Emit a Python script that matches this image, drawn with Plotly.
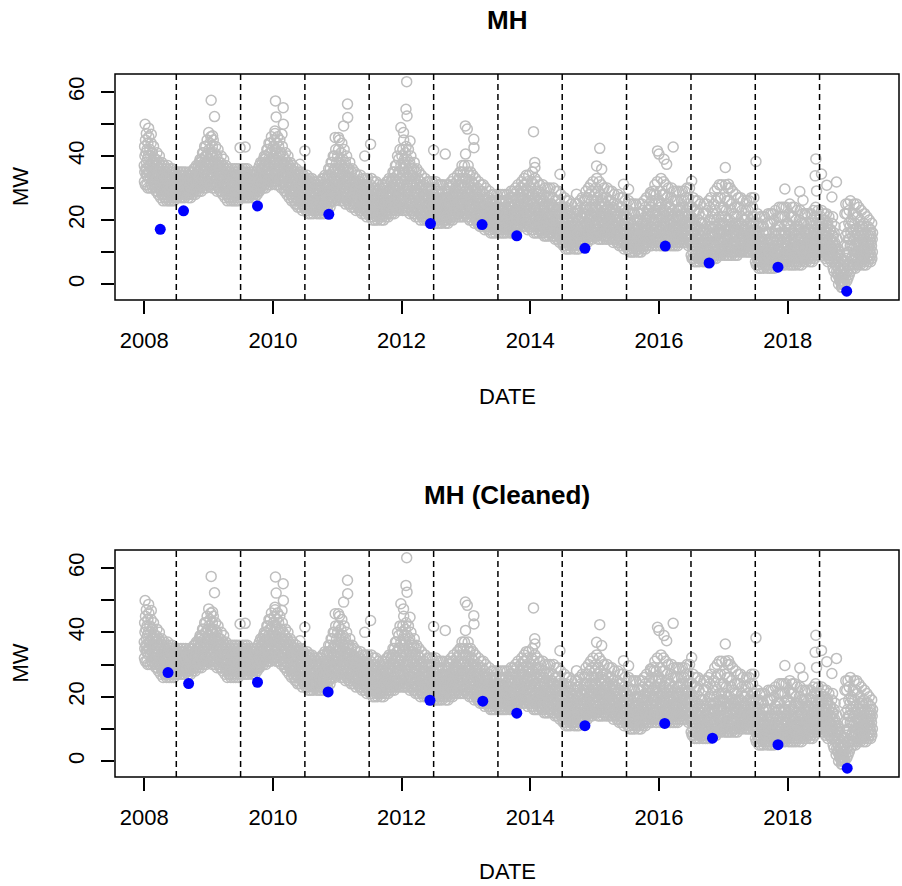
import plotly.graph_objects as go

# ---------------- data ----------------
# Twelve daily MW readings per half month (sorted low -> high); the day of the
# month each reading was taken on is given by the day patterns below.
first_half_days = [[7, 2, 12, 4, 9, 1, 14, 5, 11, 3, 8, 13],
                   [3, 10, 6, 13, 1, 8, 4, 12, 7, 14, 2, 9]]
second_half_days = [[21, 16, 26, 18, 23, 15, 28, 19, 25, 17, 22, 27],
                    [17, 24, 20, 27, 15, 22, 18, 26, 21, 28, 16, 23]]

mw_2008 = [
    "31 32 34 35 36 37 38 40 41 43 45 47", "30 31 33 34 35 36 37 39 40 42 44 46",
    "30 31 33 34 35 36 37 38 40 41 42 44", "30 31 32 33 34 35 36 37 38 39 41 43",
    "29 30 31 32 33 34 35 36 37 38 39 41", "28 29 30 31 32 33 34 35 36 37 38 40",
    "27 28 29 30 31 32 33 34 35 36 37 38", "26 27 28 29 30 31 32 33 34 35 36 37",
    "26 27 28 29 30 31 32 33 34 35 36 37", "26 27 28 29 29 30 31 32 33 34 35 36",
    "26 27 28 29 30 31 31 32 33 34 35 36", "26 27 28 29 29 30 31 31 32 33 34 35",
    "27 28 28 29 30 30 31 32 32 33 34 35", "27 28 29 29 30 30 31 31 32 33 34 35",
    "27 28 28 29 30 30 31 32 32 33 34 35", "27 28 29 29 30 30 31 31 32 33 34 35",
    "27 28 28 29 30 30 31 32 32 33 34 35", "27 28 29 29 30 31 31 32 33 33 34 35",
    "28 29 29 30 31 31 32 33 33 34 35 36", "28 29 30 31 31 32 33 34 34 35 36 37",
    "29 30 31 32 33 33 34 35 36 37 38 39", "29 30 31 32 33 34 35 36 37 38 39 41",
    "30 31 32 33 34 35 36 37 38 40 41 43", "30 31 32 34 35 36 37 38 40 41 43 45",
]
mw_2009 = [
    "31 32 33 35 36 37 38 39 41 42 44 46", "30 31 32 34 35 36 37 38 40 41 43 45",
    "30 31 32 33 34 35 36 37 38 40 41 43", "29 30 31 32 33 34 35 36 37 38 40 42",
    "29 30 31 32 33 34 34 35 36 37 38 40", "28 29 30 31 32 33 33 34 35 36 37 39",
    "27 28 29 30 31 31 32 33 34 35 36 37", "26 27 28 29 30 31 31 32 33 34 35 36",
    "26 27 28 29 29 30 31 32 33 34 35 36", "26 27 28 29 29 30 31 32 32 33 34 36",
    "26 27 28 29 29 30 31 32 33 34 35 36", "26 27 28 29 30 30 31 32 33 34 35 36",
    "27 28 29 29 30 31 31 32 33 34 35 36", "27 28 29 29 30 31 31 32 33 34 35 36",
    "27 28 29 29 30 31 31 32 33 34 35 36", "27 28 28 29 30 31 31 32 33 33 34 35",
    "27 28 28 29 30 30 31 32 32 33 34 35", "27 28 29 29 30 31 31 32 33 33 34 35",
    "28 29 29 30 31 31 32 33 33 34 35 36", "29 30 30 31 32 33 33 34 35 36 37 38",
    "30 31 32 33 33 34 35 36 37 38 39 40", "30 31 32 33 34 35 36 37 38 39 40 42",
    "31 32 33 34 35 36 37 38 39 41 42 44", "31 32 33 35 36 37 38 39 41 42 44 46",
]
mw_2010 = [
    "32 33 34 36 37 38 39 40 42 43 45 47", "31 32 33 35 36 37 38 39 41 42 44 46",
    "31 32 33 34 35 36 37 38 40 41 43 45", "30 31 32 33 34 35 36 37 38 40 41 43",
    "29 30 31 32 33 34 35 36 37 38 39 41", "28 29 30 31 32 33 34 35 36 37 38 40",
    "27 28 29 30 31 32 33 34 35 36 37 38", "26 27 28 29 30 31 32 33 34 35 36 37",
    "25 26 27 28 29 30 31 32 33 34 35 36", "24 25 26 27 28 29 30 31 32 33 34 35",
    "24 25 26 27 28 29 30 31 32 33 34 35", "23 24 25 26 27 28 29 30 31 32 33 34",
    "23 24 25 26 27 28 29 30 31 32 33 34", "22 23 24 25 26 27 28 29 30 31 32 33",
    "22 23 24 25 26 27 28 29 30 31 32 33", "22 23 24 25 26 26 27 28 29 30 31 32",
    "22 23 24 25 26 26 27 28 29 30 31 32", "22 23 24 25 26 27 27 28 29 30 31 32",
    "22 23 24 25 26 27 28 29 30 31 32 33", "22 23 24 25 26 27 28 29 30 31 33 34",
    "23 24 25 26 27 28 29 30 31 33 34 36", "24 25 26 27 28 29 30 31 33 34 36 38",
    "26 27 28 29 30 31 32 33 35 36 38 40", "26 27 28 30 31 32 33 35 36 38 40 42",
]
mw_2011 = [
    "27 28 30 31 32 34 35 36 38 40 42 45", "26 27 28 30 31 32 34 35 37 39 41 44",
    "26 27 28 30 31 32 33 34 36 37 39 42", "25 26 27 28 30 31 32 33 34 36 38 40",
    "25 26 27 28 29 30 31 32 33 35 36 38", "24 25 26 27 28 29 30 31 32 33 35 36",
    "24 25 26 27 28 29 30 30 31 32 33 35", "23 24 25 26 27 28 29 29 30 31 32 34",
    "23 24 25 26 27 28 28 29 30 31 32 34", "22 23 24 25 26 27 27 28 29 30 31 33",
    "22 23 24 25 26 27 27 28 29 30 31 33", "21 22 23 24 25 26 27 27 28 29 31 33",
    "21 22 23 24 25 26 27 28 29 30 31 33", "20 21 22 23 24 25 26 27 28 29 30 32",
    "20 21 22 23 24 25 26 27 28 29 30 32", "20 21 22 23 24 25 25 26 27 28 29 31",
    "20 21 22 23 24 25 25 26 27 28 29 31", "20 21 22 23 24 25 26 26 27 28 30 31",
    "21 22 23 24 25 26 26 27 28 29 30 32", "21 22 23 24 25 26 27 28 29 30 32 33",
    "22 23 24 25 26 27 28 29 30 32 33 35", "22 23 24 25 26 28 29 30 32 33 35 37",
    "23 24 25 27 28 29 31 32 34 35 37 40", "23 24 25 27 28 30 31 33 35 37 39 42",
]
mw_2012 = [
    "23 25 26 28 30 32 34 36 38 40 42 45", "23 24 26 27 29 31 33 35 37 39 41 43",
    "23 24 25 27 28 30 31 33 35 37 39 42", "22 23 25 26 28 29 31 32 34 36 38 40",
    "22 23 24 25 27 28 29 31 32 34 36 38", "21 22 23 24 26 27 28 30 31 33 35 36",
    "21 22 23 24 25 26 27 28 30 31 33 35", "20 21 22 23 24 25 26 27 29 30 32 34",
    "20 21 22 23 24 25 26 27 28 29 31 33", "20 21 22 23 24 24 25 26 27 28 30 32",
    "20 21 22 23 24 25 25 26 27 28 30 32", "19 20 21 22 23 24 25 26 27 28 30 32",
    "19 20 21 22 23 24 25 26 27 28 30 32", "19 20 21 22 23 24 25 25 26 27 29 31",
    "19 20 21 22 23 24 24 25 26 27 29 31", "19 20 21 22 23 23 24 25 26 27 29 31",
    "19 20 21 22 23 24 24 25 26 27 29 31", "19 20 21 22 23 24 25 25 26 27 29 31",
    "20 21 22 23 24 25 25 26 27 28 30 32", "20 21 22 23 24 25 26 27 28 29 31 33",
    "21 22 23 24 25 26 27 28 29 30 32 34", "21 22 23 24 25 26 27 28 30 31 33 35",
    "21 22 23 25 26 27 28 30 31 33 35 37", "21 22 23 24 26 27 28 29 31 33 35 37",
]
mw_2013 = [
    "21 22 23 25 26 27 28 30 31 33 35 37", "20 21 22 24 25 26 27 29 30 32 34 35",
    "20 21 22 23 24 25 26 27 29 30 32 34", "19 20 21 22 23 24 25 26 28 29 31 33",
    "19 20 21 22 23 24 25 26 27 28 30 32", "18 19 20 21 22 23 24 25 26 27 29 31",
    "18 19 20 21 22 23 24 25 26 27 29 31", "17 18 19 20 21 22 23 24 25 26 28 30",
    "17 18 19 20 21 22 23 23 24 25 27 29", "16 17 18 19 20 21 22 22 23 24 26 28",
    "16 17 18 19 20 21 22 22 23 24 26 28", "16 17 18 19 20 21 21 22 23 24 26 28",
    "16 17 18 19 20 21 22 22 23 24 26 28", "16 17 18 19 20 21 21 22 23 24 26 28",
    "16 17 18 19 20 21 22 22 23 24 26 28", "16 17 18 19 20 21 22 22 23 25 26 28",
    "16 17 18 19 20 21 22 23 24 25 27 29", "16 17 18 19 20 21 22 23 24 25 27 29",
    "16 17 18 19 20 21 22 23 25 26 28 30", "17 18 19 20 21 22 23 24 25 27 29 31",
    "18 19 20 21 22 23 24 25 27 28 30 32", "18 19 20 21 22 23 24 26 27 29 31 33",
    "18 19 20 21 23 24 25 26 28 29 31 34", "17 18 19 21 22 23 25 26 28 29 32 34",
]
mw_2014 = [
    "17 18 19 21 22 23 25 26 28 30 32 35", "16 17 18 20 21 22 24 25 27 28 31 33",
    "16 17 18 19 21 22 23 24 26 27 29 32", "16 17 18 19 20 21 22 24 25 27 29 31",
    "16 17 18 19 20 21 22 23 25 26 28 31", "15 16 17 18 19 20 21 23 24 26 28 30",
    "15 16 17 18 19 20 21 22 24 25 27 30", "15 16 17 18 19 20 21 22 23 25 27 30",
    "15 16 17 18 19 20 21 22 24 25 27 30", "14 15 16 17 18 19 20 22 23 24 26 29",
    "14 15 16 17 18 19 20 21 23 24 26 29", "13 14 15 16 17 18 19 20 22 23 25 28",
    "12 13 14 15 16 17 18 19 21 22 24 27", "11 12 13 14 15 16 17 19 20 22 24 26",
    "11 12 13 14 15 16 17 18 20 21 23 26", "11 12 13 14 15 16 17 18 19 21 23 25",
    "11 12 13 14 15 16 17 18 19 20 22 25", "11 12 13 14 15 16 17 18 20 21 23 25",
    "11 12 13 14 15 16 17 18 20 21 23 26", "12 13 14 15 16 17 18 19 21 22 24 27",
    "13 14 15 16 17 18 19 21 22 24 26 29", "13 14 15 16 17 18 20 21 23 24 27 30",
    "14 15 16 17 18 20 21 22 24 26 28 31", "14 15 16 17 19 20 21 23 24 26 29 32",
]
mw_2015 = [
    "15 16 17 18 20 21 22 24 26 28 30 33", "14 15 16 17 19 20 21 23 25 27 29 32",
    "14 15 16 17 18 20 21 22 24 26 28 31", "14 15 16 17 18 19 21 22 23 25 27 30",
    "14 15 16 17 18 19 20 22 23 25 27 30", "14 15 16 17 18 19 20 21 23 24 26 29",
    "14 15 16 17 18 19 20 21 22 24 26 29", "13 14 15 16 17 18 19 20 22 23 25 28",
    "13 14 15 16 17 18 19 20 21 23 25 28", "12 13 14 15 16 17 18 19 21 22 24 27",
    "12 13 14 15 16 17 18 19 20 22 24 27", "11 12 13 14 15 16 17 18 20 21 23 26",
    "11 12 13 14 15 16 17 18 19 21 23 26", "10 11 12 13 14 15 16 17 19 20 22 25",
    "10 11 12 13 14 15 16 17 18 20 22 25", "10 11 12 13 14 15 16 17 18 20 22 25",
    "10 11 12 13 14 15 16 17 18 20 22 25", "10 11 12 13 14 15 16 17 19 20 22 25",
    "11 12 13 14 15 16 17 18 19 21 23 26", "11 12 13 14 15 16 17 19 20 22 24 27",
    "12 13 14 15 16 17 18 20 21 23 25 28", "12 13 14 15 16 18 19 20 22 24 26 29",
    "13 14 15 16 17 19 20 22 23 25 28 31", "12 13 14 15 17 18 20 21 23 25 28 32",
]
mw_2016 = [
    "12 13 14 16 17 18 20 22 24 26 29 33", "12 13 14 15 17 18 19 21 23 25 28 32",
    "12 13 14 15 16 18 19 21 23 25 28 31", "12 13 14 15 16 17 19 20 22 24 27 30",
    "12 13 14 15 16 17 19 20 22 24 27 30", "12 13 14 15 16 17 18 20 21 23 26 29",
    "12 13 14 15 16 17 18 20 21 23 26 29", "12 13 14 15 16 17 18 20 21 23 26 29",
    "13 14 15 16 17 18 19 20 22 24 26 29", "13 14 15 16 17 18 19 21 22 24 26 29",
    "13 14 15 16 17 18 19 21 23 25 27 30", "12 13 14 15 16 18 19 20 22 24 27 30",
    "8 9 10 12 13 14 16 17 19 21 24 27", "7 8 9 11 12 13 15 16 18 20 23 26",
    "7 8 9 10 12 13 14 16 18 20 23 26", "7 8 9 10 12 13 14 15 17 19 22 25",
    "7 8 9 10 11 13 14 15 17 19 22 25", "7 8 9 10 11 13 14 16 17 19 22 25",
    "7 8 9 10 12 13 14 16 18 20 23 26", "7 8 9 11 12 13 15 16 18 21 24 27",
    "8 9 10 12 13 15 16 18 20 22 25 29", "8 9 10 12 13 15 16 18 20 23 26 30",
    "9 10 11 13 14 16 17 19 21 24 27 31", "9 10 11 13 14 16 17 19 21 23 27 31",
]
mw_2017 = [
    "9 10 11 13 14 16 17 19 21 24 27 31", "9 10 11 12 14 15 17 18 20 23 26 30",
    "9 10 11 12 14 15 17 18 20 23 26 30", "9 10 11 12 13 15 16 18 19 22 25 29",
    "9 10 11 12 13 15 16 17 19 21 24 28", "9 10 11 12 13 15 16 17 19 21 24 27",
    "10 11 12 13 14 15 16 17 19 21 24 27", "10 11 12 13 14 15 16 17 18 20 23 26",
    "10 11 12 13 14 15 16 17 18 20 23 26", "10 11 12 13 14 15 16 17 19 21 23 26",
    "10 11 12 13 14 15 16 18 19 21 24 27", "10 11 12 13 14 15 16 17 19 21 24 27",
    "6 7 8 9 10 11 12 13 15 17 19 22", "5 6 7 8 9 10 12 13 14 16 19 21",
    "5 6 7 8 9 10 11 12 14 16 18 21", "5 6 7 8 9 10 11 12 14 16 18 21",
    "5 6 7 8 9 10 11 13 14 16 19 22", "5 6 7 8 9 10 11 12 14 16 19 22",
    "5 6 7 8 9 10 11 13 14 16 19 22", "5 6 7 8 9 10 12 13 15 17 20 23",
    "6 7 8 9 10 11 13 14 16 18 21 24", "6 7 8 9 10 11 12 14 16 18 21 24",
    "6 7 8 9 10 11 13 14 16 18 21 24", "6 7 8 9 10 12 13 14 16 19 21 24",
]
mw_2018 = [
    "6 7 8 9 10 12 13 15 17 19 22 25", "6 7 8 9 10 11 13 14 16 18 21 24",
    "6 7 8 9 10 11 13 14 16 18 21 24", "6 7 8 9 10 11 12 14 15 17 20 23",
    "6 7 8 9 10 11 12 14 16 18 20 23", "6 7 8 9 10 11 12 14 15 17 19 22",
    "7 8 9 10 11 12 13 14 16 17 19 22", "7 8 9 10 11 12 13 14 15 17 19 22",
    "7 8 9 10 11 12 13 14 16 17 19 22", "7 8 9 10 11 12 13 15 16 18 20 23",
    "8 9 10 11 12 13 14 16 17 19 21 24", "9 10 11 12 13 14 15 16 18 19 21 23",
    "10 11 12 13 14 15 16 17 18 19 21 23", "9 10 11 12 13 14 15 16 17 19 20 22",
    "8 9 10 11 12 13 14 15 16 18 20 22", "7 8 9 10 11 12 13 14 16 17 19 21",
    "7 8 9 10 11 12 13 14 15 17 19 21", "4 5 7 8 9 10 11 12 13 15 16 18",
    "2 3 4 5 6 7 8 9 10 11 12 14", "0 1 2 2 3 4 5 6 7 8 9 10",
    "-1 -1 0 0 1 1 2 2 3 4 5 7", "0 1 2 3 5 7 9 12 15 18 22 25",
    "1 2 4 6 8 10 12 14 16 19 22 25", "3 4 6 8 10 12 14 16 18 20 23 26",
]
mw_2019 = [
    "5 6 8 9 11 12 14 15 17 19 22 25", "5 6 7 9 10 12 13 15 17 19 22 25",
    "6 7 8 9 10 12 13 15 16 18 21 24", "6 7 8 9 10 11 13 14 16 18 20 23",
    "6 7 8 9 10 11 12 14 15 17 19 22", "6 7 8 9 10 11 12 13 15 16 18 21",
    "7 8 9 10 11 12 13 14 15 16 18 20", "7 8 9 10 11 12 13 14 15 16 17 19",
]

# sparse high readings (peaks above the dense band)
outlier_dates = [
    "2008-01-06", "2008-01-26", "2008-02-10", "2009-01-01", "2009-01-15",
    "2009-01-23", "2009-02-03", "2009-06-28", "2009-07-27", "2010-01-12",
    "2010-01-15", "2010-01-19", "2010-02-21", "2010-02-28", "2010-03-01",
    "2010-06-03", "2010-07-01", "2010-12-20", "2011-01-08", "2011-02-06",
    "2011-02-28", "2011-03-01", "2011-06-06", "2011-07-09", "2011-12-28",
    "2012-01-12", "2012-01-26", "2012-01-30", "2012-02-01", "2012-02-18",
    "2012-07-01", "2012-09-05", "2012-12-28", "2012-12-29", "2013-01-08",
    "2013-02-14", "2013-02-15", "2014-01-19", "2014-01-26", "2014-01-27",
    "2014-06-18", "2014-09-20", "2015-01-12", "2015-01-30", "2015-02-10",
    "2015-06-14", "2015-07-13", "2015-11-14", "2015-12-24", "2016-01-01",
    "2016-01-30", "2016-02-14", "2016-03-22", "2016-07-05", "2017-01-12",
    "2017-01-30", "2017-07-05", "2017-12-16", "2018-03-11", "2018-03-29",
    "2018-06-06", "2018-06-10", "2018-06-14", "2018-07-12", "2018-08-11",
    "2018-09-09", "2018-10-05",
]
outlier_mw = [
    49.9, 48.7, 46.8, 47.3, 57.4,
    46.3, 52.3, 42.6, 42.8, 47.8,
    57.2, 52.2, 46.8, 55.1, 49.9,
    37.4, 41.6, 45.8, 45.8, 49.4,
    56.2, 52.0, 40.0, 43.7, 48.9,
    47.3, 54.6, 63.2, 52.5, 44.7,
    41.8, 40.6, 49.4, 40.6, 48.4,
    45.2, 42.6, 47.6, 38.0, 36.4,
    34.3, 28.1, 36.9, 42.4, 35.9,
    31.2, 29.6, 28.6, 41.6, 40.6,
    39.0, 37.4, 42.8, 32.2, 36.4,
    31.2, 38.3, 29.7, 28.9, 26.2,
    33.8, 39.1, 29.1, 34.4, 30.9,
    27.2, 31.9,
]

# yearly minima (blue points)
min_dates_raw = ["2008-04-01", "2008-08-11", "2009-10-05", "2010-11-14",
                 "2012-06-13", "2013-04-02", "2013-10-16", "2014-11-07",
                 "2016-02-06", "2016-10-12", "2017-11-07", "2018-12-02"]
min_mw_raw = [17.1, 22.9, 24.4, 21.8, 18.9, 18.6, 15.1, 11.2, 11.9, 6.6, 5.3, -2.2]
min_dates_clean = ["2008-05-15", "2008-09-09", "2009-10-05", "2010-11-10",
                   "2012-06-10", "2013-04-06", "2013-10-16", "2014-11-07",
                   "2016-02-03", "2016-10-31", "2017-11-07", "2018-12-05"]
min_mw_clean = [27.5, 24.1, 24.5, 21.5, 18.9, 18.6, 14.9, 11.0, 11.7, 7.1, 5.1, -2.2]

# season boundaries (dashed lines)
boundary_dates = ["2008-07-01", "2009-07-01", "2010-07-01", "2011-07-01",
                  "2012-07-01", "2013-07-01", "2014-07-01", "2015-07-01",
                  "2016-07-01", "2017-07-01", "2018-07-01"]

x_tick_dates = ["2008-01-01", "2010-01-01", "2012-01-01", "2014-01-01",
                "2016-01-01", "2018-01-01"]
x_tick_labels = ["2008", "2010", "2012", "2014", "2016", "2018"]
y_tick_vals = [0, 10, 20, 30, 40, 50, 60]
y_tick_labels = ["0", "", "20", "", "40", "", "60"]

titles = ["MH", "MH (Cleaned)"]

# ---------------- build the series ----------------
years = [2008, 2009, 2010, 2011, 2012, 2013, 2014, 2015, 2016, 2017, 2018, 2019]
tables = [mw_2008, mw_2009, mw_2010, mw_2011, mw_2012, mw_2013, mw_2014,
          mw_2015, mw_2016, mw_2017, mw_2018, mw_2019]
gray_x, gray_y = [], []
k = 0
for yr, table in zip(years, tables):
    for idx, row in enumerate(table):
        month = idx // 2 + 1
        half = idx % 2
        days = (first_half_days if half == 0 else second_half_days)[k % 2]
        if half == 1:
            k += 1
        vals = [float(v) for v in row.split()]
        for d, v in zip(days, vals):
            gray_x.append(f"{yr}-{month:02d}-{d:02d}")
            gray_y.append(v)
gray_x += outlier_dates
gray_y += outlier_mw

X_RANGE = ["2007-07-19", "2019-09-25"]
Y_RANGE = [-4.95, 65.6]

W, H = 902, 886
FONT = "Liberation Sans, Arial, Helvetica, sans-serif"
x_dom = [115 / W, 899 / W]
y_doms = [[1 - 300 / H, 1 - 74 / H], [1 - 777 / H, 1 - 550 / H]]

fig = go.Figure()
panels = [(min_dates_raw, min_mw_raw), (min_dates_clean, min_mw_clean)]
for i, (bx, by) in enumerate(panels):
    xa = "x" if i == 0 else "x2"
    ya = "y" if i == 0 else "y2"
    fig.add_trace(go.Scatter(
        x=gray_x, y=gray_y, mode="markers", xaxis=xa, yaxis=ya,
        marker=dict(symbol="circle-open", size=10, color="#BEBEBE",
                    line=dict(width=1.5, color="#BEBEBE")),
        hoverinfo="skip", showlegend=False))
    lx, ly = [], []
    for d in boundary_dates:
        lx += [d, d, None]
        ly += [Y_RANGE[0], Y_RANGE[1], None]
    fig.add_trace(go.Scatter(
        x=lx, y=ly, mode="lines", xaxis=xa, yaxis=ya,
        line=dict(color="black", width=1.5, dash="6px,4px"),
        hoverinfo="skip", showlegend=False))
    fig.add_trace(go.Scatter(
        x=bx, y=by, mode="markers", xaxis=xa, yaxis=ya,
        marker=dict(symbol="circle", size=11, color="#0000FF", line=dict(width=0)),
        showlegend=False))

axis_common = dict(showgrid=False, zeroline=False, showline=False,
                   ticks="outside", ticklen=13, tickwidth=1.5, tickcolor="black",
                   tickfont=dict(family=FONT, size=22, color="black"))
layout = dict(
    width=W, height=H, margin=dict(l=0, r=0, t=0, b=0),
    paper_bgcolor="white", plot_bgcolor="white", showlegend=False,
    font=dict(family=FONT, color="black"),
)
for i in range(2):
    sx = "" if i == 0 else "2"
    layout["xaxis" + sx] = dict(
        axis_common, type="date", domain=x_dom, range=X_RANGE,
        tickmode="array", tickvals=x_tick_dates, ticktext=x_tick_labels,
        anchor="y" + sx, ticklabelstandoff=8)
    layout["yaxis" + sx] = dict(
        axis_common, domain=y_doms[i], range=Y_RANGE,
        tickmode="array", tickvals=y_tick_vals, ticktext=y_tick_labels,
        tickangle=-90, anchor="x" + sx, ticklabelstandoff=8)
fig.update_layout(**layout)

shapes = []
annotations = []
title_y = [20, 495]
date_y = [396, 871]
for i in range(2):
    y0, y1 = y_doms[i]
    shapes.append(dict(type="rect", xref="paper", yref="paper",
                       x0=x_dom[0], x1=x_dom[1], y0=y0, y1=y1,
                       line=dict(color="black", width=1.5), layer="above"))
    annotations.append(dict(text="<b>" + titles[i] + "</b>", xref="paper", yref="paper",
                            x=507 / W, y=1 - title_y[i] / H, showarrow=False,
                            xanchor="center", yanchor="middle",
                            font=dict(family=FONT, size=26, color="black")))
    annotations.append(dict(text="DATE", xref="paper", yref="paper",
                            x=507 / W, y=1 - date_y[i] / H, showarrow=False,
                            xanchor="center", yanchor="middle",
                            font=dict(family=FONT, size=22, color="black")))
    annotations.append(dict(text="MW", xref="paper", yref="paper",
                            x=20 / W, y=(y0 + y1) / 2, showarrow=False,
                            textangle=-90, xanchor="center", yanchor="middle",
                            font=dict(family=FONT, size=22, color="black")))
fig.update_layout(shapes=shapes, annotations=annotations)

fig.write_html("out.html", config={"displayModeBar": False},
               post_script="document.body.style.margin='0px';")
